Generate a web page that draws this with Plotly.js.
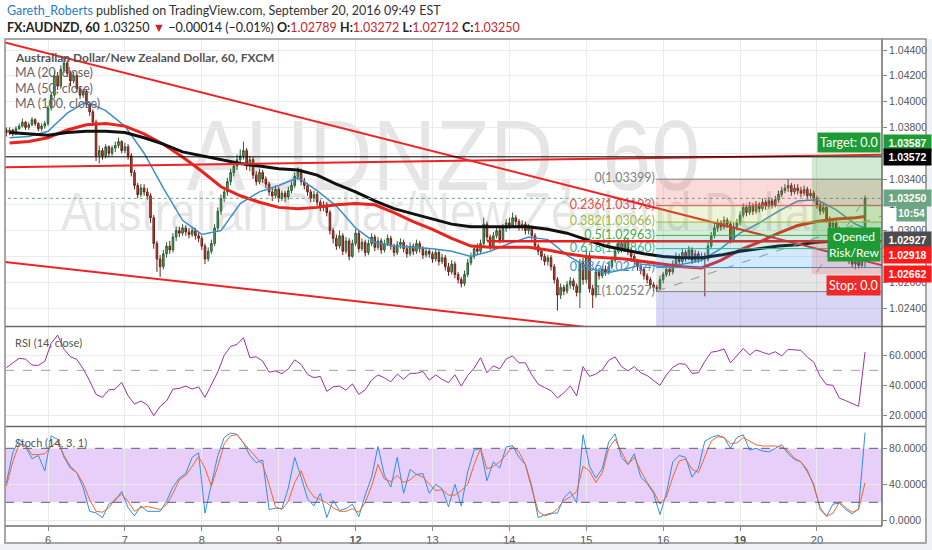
<!DOCTYPE html>
<html><head><meta charset="utf-8">
<script src="https://cdn.plot.ly/plotly-3.0.1.min.js"></script>
<style>
html,body{margin:0;padding:0;background:#fff;}
#wrap{position:relative;width:932px;height:550px;overflow:hidden;background:#fff;}
#wm{position:absolute;left:5px;top:0;width:877px;height:550px;pointer-events:none;font-family:'Liberation Sans',Arial,sans-serif;color:rgba(0,0,0,0.10);}
.wm{position:absolute;left:0;width:877px;text-align:center;white-space:nowrap;transform:scaleX(0.88);}
.wm1{font-size:100px;line-height:100px;top:105px;}
.wm2{font-size:53px;line-height:53px;top:185px;}
#chart{position:absolute;left:0;top:0;width:932px;height:550px;}
#bstrip{position:absolute;left:0;top:544px;width:932px;height:6px;background:#eef1f5;}
#rstrip{position:absolute;left:927px;top:39px;width:5px;height:511px;background:#eef1f5;}
</style></head>
<body>
<div id="wrap">
  <div id="bstrip"></div><div id="rstrip"></div>
  <div id="wm"><div class="wm wm1">AUDNZD, 60</div><div class="wm wm2">Australian Dollar/New Zealand Dollar</div></div>
  <div id="chart"></div>
</div>
<script>
// ---------------- DATA ----------------
const firstBar = -13;            // bar index of first candle (0 = start of day "6")
const barsPerDay = 24;
const dayLabels = ['6','7','8','9','<b>12</b>','13','14','15','16','<b>19</b>','20'];
const firstOpen = 1.0378;
const closes = [
1.0376,1.0378,1.0375,1.0379,1.0381,1.0384,1.0380,1.0382,1.0386,1.0383,1.0379,1.0381,1.0383,
1.0395,1.0405,1.0420,1.0412,1.0425,1.0430,1.0422,1.0416,1.0420,1.0410,1.0405,1.0408,
1.0398,1.0392,1.0384,1.0358,1.0362,1.0358,1.0365,1.0360,1.0364,1.0366,1.0369,1.0362,
1.0365,1.0358,1.0345,1.0335,1.0328,1.0333,1.0330,1.0327,1.0310,1.0290,1.0278,1.0272,
1.0282,1.0288,1.0285,1.0295,1.0300,1.0298,1.0302,1.0299,1.0297,1.0300,1.0296,1.0294,
1.0288,1.0278,1.0284,1.0290,1.0302,1.0315,1.0325,1.0330,1.0338,1.0345,1.0350,1.0355,
1.0358,1.0362,1.0350,1.0355,1.0343,1.0338,1.0345,1.0340,1.0336,1.0330,1.0327,1.0332,
1.0325,1.0329,1.0326,1.0331,1.0335,1.0342,1.0346,1.0338,1.0335,1.0330,1.0325,1.0328,
1.0322,1.0318,1.0320,1.0314,1.0300,1.0294,1.0288,1.0296,1.0284,1.0292,1.0280,1.0290,
1.0298,1.0286,1.0291,1.0283,1.0290,1.0295,1.0287,1.0292,1.0285,1.0290,1.0294,1.0288,
1.0283,1.0289,1.0291,1.0286,1.0282,1.0288,1.0284,1.0290,1.0286,1.0281,1.0284,1.0282,
1.0278,1.0283,1.0276,1.0279,1.0272,1.0268,1.0274,1.0266,1.0262,1.0259,1.0266,1.0275,
1.0280,1.0286,1.0284,1.0290,1.0305,1.0295,1.0288,1.0296,1.0300,1.0293,1.0302,1.0306,
1.0304,1.0310,1.0307,1.0303,1.0305,1.0300,1.0302,1.0296,1.0288,1.0284,1.0280,1.0276,
1.0279,1.0272,1.0262,1.0250,1.0256,1.0253,1.0258,1.0261,1.0257,1.0252,1.0275,1.0262,
1.0280,1.0255,1.0250,1.0268,1.0265,1.0270,1.0268,1.0272,1.0277,1.0284,1.0290,1.0286,
1.0292,1.0284,1.0280,1.0276,1.0272,1.0270,1.0265,1.0262,1.0258,1.0256,1.0255,1.0262,
1.0266,1.0270,1.0268,1.0274,1.0280,1.0276,1.0283,1.0279,1.0285,1.0277,1.0282,1.0278,
1.0280,1.0278,1.0288,1.0296,1.0302,1.0306,1.0303,1.0308,1.0305,1.0293,1.0303,1.0306,
1.0312,1.0318,1.0314,1.0319,1.0315,1.0320,1.0317,1.0322,1.0319,1.0323,1.0320,1.0324,
1.0328,1.0331,1.0333,1.0335,1.0330,1.0333,1.0331,1.0329,1.0332,1.0327,1.0329,1.0325,
1.0320,1.0315,1.0318,1.0309,1.0303,1.0306,1.0301,1.0286,1.0283,1.0280,1.0277,1.0274,
1.0276,1.0273,1.02789,1.03250];
const highs = [
1.0380,1.0380,1.0379,1.0381,1.0383,1.0387,1.0385,1.0384,1.0388,1.0387,1.0384,1.0383,1.0385,
1.0397,1.0407,1.0424,1.0423,1.0428,1.0434,1.0432,1.0424,1.0423,1.0421,1.0412,1.0410,
1.0409,1.0400,1.0394,1.0386,1.0366,1.0364,1.0367,1.0366,1.0366,1.0369,1.0372,1.0370,
1.0368,1.0367,1.0360,1.0347,1.0337,1.0336,1.0336,1.0333,1.0329,1.0312,1.0292,1.0281,
1.0285,1.0291,1.0292,1.0298,1.0303,1.0303,1.0305,1.0304,1.0302,1.0303,1.0302,1.0299,
1.0296,1.0290,1.0287,1.0293,1.0305,1.0318,1.0328,1.0334,1.0341,1.0348,1.0354,1.0359,
1.0363,1.0369,1.0364,1.0358,1.0357,1.0346,1.0348,1.0347,1.0342,1.0338,1.0333,1.0335,
1.0334,1.0331,1.0331,1.0334,1.0338,1.0345,1.0349,1.0348,1.0341,1.0337,1.0332,1.0331,
1.0330,1.0324,1.0323,1.0322,1.0316,1.0302,1.0297,1.0300,1.0298,1.0295,1.0294,1.0293,
1.0301,1.0300,1.0294,1.0293,1.0293,1.0298,1.0297,1.0295,1.0294,1.0293,1.0297,1.0296,
1.0290,1.0292,1.0294,1.0293,1.0289,1.0291,1.0290,1.0293,1.0292,1.0288,1.0287,1.0286,
1.0284,1.0286,1.0285,1.0282,1.0281,1.0275,1.0277,1.0276,1.0268,1.0264,1.0269,1.0278,
1.0283,1.0289,1.0290,1.0293,1.0310,1.0307,1.0297,1.0299,1.0303,1.0302,1.0305,1.0309,
1.0310,1.0314,1.0312,1.0309,1.0308,1.0307,1.0305,1.0304,1.0298,1.0290,1.0286,1.0282,
1.0281,1.0281,1.0274,1.0264,1.0259,1.0258,1.0261,1.0264,1.0263,1.0259,1.0278,1.0279,
1.0285,1.0283,1.0258,1.0271,1.0271,1.0273,1.0273,1.0275,1.0280,1.0287,1.0293,1.0292,
1.0295,1.0294,1.0287,1.0282,1.0278,1.0274,1.0272,1.0267,1.0264,1.0260,1.0258,1.0265,
1.0268,1.0273,1.0272,1.0277,1.0283,1.0282,1.0286,1.0285,1.0288,1.0287,1.0285,1.0284,
1.0283,1.0283,1.0291,1.0299,1.0305,1.0309,1.0308,1.0311,1.0310,1.0307,1.0306,1.0309,
1.0315,1.0321,1.0320,1.0322,1.0321,1.0323,1.0322,1.0325,1.0324,1.0326,1.0325,1.0327,
1.0331,1.0334,1.0336,1.03399,1.0337,1.0336,1.0336,1.0334,1.0335,1.0334,1.0332,1.0331,
1.0327,1.0322,1.0321,1.0319,1.0311,1.0309,1.0308,1.0303,1.0289,1.0286,1.0283,1.0280,
1.0279,1.0278,1.0281,1.03272];
const lows = [
1.0373,1.0374,1.0373,1.0374,1.0378,1.0380,1.0378,1.0378,1.0381,1.0381,1.0377,1.0377,1.0379,
1.0381,1.0393,1.0403,1.0409,1.0410,1.0422,1.0419,1.0412,1.0414,1.0407,1.0402,1.0403,
1.0395,1.0389,1.0381,1.0354,1.0352,1.0355,1.0356,1.0357,1.0358,1.0361,1.0364,1.0360,
1.0360,1.0355,1.0342,1.0332,1.0325,1.0326,1.0327,1.0324,1.0306,1.0286,1.0268,1.0264,
1.0270,1.0279,1.0282,1.0283,1.0292,1.0295,1.0296,1.0296,1.0294,1.0295,1.0293,1.0291,
1.0285,1.0274,1.0276,1.0282,1.0288,1.0300,1.0312,1.0322,1.0327,1.0335,1.0342,1.0347,
1.0352,1.0355,1.0347,1.0346,1.0340,1.0335,1.0336,1.0337,1.0333,1.0327,1.0323,1.0325,
1.0322,1.0323,1.0322,1.0324,1.0329,1.0333,1.0339,1.0335,1.0332,1.0327,1.0322,1.0322,
1.0319,1.0315,1.0315,1.0311,1.0297,1.0290,1.0285,1.0286,1.0281,1.0282,1.0277,1.0279,
1.0288,1.0283,1.0284,1.0280,1.0281,1.0288,1.0284,1.0285,1.0282,1.0283,1.0288,1.0285,
1.0280,1.0281,1.0286,1.0283,1.0279,1.0280,1.0281,1.0282,1.0283,1.0278,1.0279,1.0279,
1.0275,1.0276,1.0273,1.0274,1.0269,1.0265,1.0266,1.0263,1.0259,1.0256,1.0257,1.0264,
1.0273,1.0278,1.0281,1.0282,1.0288,1.0292,1.0285,1.0286,1.0294,1.0290,1.0291,1.0299,
1.0301,1.0302,1.0304,1.0300,1.0300,1.0297,1.0297,1.0293,1.0285,1.0281,1.0277,1.0273,
1.0273,1.0269,1.0259,1.0238,1.0247,1.0250,1.0251,1.0255,1.0254,1.0249,1.0240,1.0258,
1.0259,1.0252,1.0240,1.0248,1.0262,1.0263,1.0265,1.0266,1.0270,1.0275,1.0282,1.0283,
1.0284,1.0281,1.0277,1.0273,1.0269,1.0266,1.0262,1.0259,1.0255,1.0253,1.02527,1.0254,
1.0259,1.0264,1.0265,1.0266,1.0272,1.0273,1.0274,1.0276,1.0277,1.0274,1.0275,1.0275,
1.0276,1.0249,1.0276,1.0286,1.0294,1.0299,1.0300,1.0301,1.0302,1.0290,1.0291,1.0300,
1.0304,1.0310,1.0311,1.0312,1.0312,1.0313,1.0314,1.0315,1.0316,1.0317,1.0317,1.0318,
1.0322,1.0326,1.0329,1.0330,1.0327,1.0328,1.0328,1.0326,1.0327,1.0324,1.0325,1.0322,
1.0317,1.0312,1.0313,1.0306,1.0300,1.0301,1.0298,1.0283,1.0280,1.0277,1.0274,1.0271,
1.0270,1.02705,1.0271,1.02712];

// moving averages read every 6 bars from bar -12, last value at the last bar
const maFirstBar = -12, maStep = 6;
const ma20 = [1.0372,1.0373,1.0377,1.0391,1.0400,1.0393,1.0381,1.0360,1.0333,1.0308,1.0297,1.0300,1.0321,1.0330,1.0335,1.0341,1.0331,1.0319,1.0302,1.0291,1.0288,1.0287,1.0286,1.0284,1.0280,1.0284,1.0290,1.0295,1.0293,1.0281,1.0272,1.0267,1.0270,1.0274,1.0272,1.0274,1.0277,1.0286,1.0298,1.0306,1.0315,1.0323,1.0324,1.0316,1.0305,1.0302];
const ma50 = [1.0368,1.0369,1.0372,1.0378,1.0382,1.0383,1.0381,1.0375,1.0367,1.0357,1.0346,1.0334,1.0327,1.0322,1.0318,1.0317,1.0318,1.0320,1.0321,1.0320,1.0314,1.0307,1.0301,1.0294,1.0288,1.0287,1.0287,1.0287,1.0285,1.0282,1.0280,1.0279,1.0278,1.0276,1.0274,1.0272,1.0271,1.0277,1.0285,1.0291,1.0298,1.0304,1.0307,1.0309,1.0310,1.0311];
const ma100 = [1.0376,1.0375,1.0374,1.0376,1.0377,1.0377,1.0376,1.0372,1.0367,1.0361,1.0358,1.0355,1.0352,1.0350,1.0348,1.0347,1.0343,1.0336,1.0330,1.0323,1.0317,1.0313,1.0309,1.0305,1.0303,1.0303,1.0303,1.0303,1.0301,1.0298,1.0293,1.0288,1.0285,1.0282,1.0280,1.0279,1.0279,1.0281,1.0284,1.0286,1.0288,1.0289,1.0291,1.0292,1.0293,1.02927];

// oscillators read every 2 bars from bar -13
const oscFirstBar = -13, oscStep = 2;
const rsi = [51.8,55,58,57.5,53.5,53.3,56,68,73.5,64,59,57.3,51,43,34,32,37,37.5,42,33,27.5,29.5,27,19.8,26,29.6,37.5,38,39.5,37.5,39,32,41,49,60,66,67.3,71.8,58.5,59,56.2,48.8,49.6,47.8,51,57,54,47.3,45.1,46,36,39,39.5,36.8,41,34,37,43.5,47,45,42.3,47.5,44,48,48,49.3,43.5,47,44,41.8,
47,39.5,46.6,51.5,58.4,48.4,53,51,57.6,59.6,55,55,47,40.8,38.5,36.5,31.6,35,39.6,33,52.5,46,47.5,50.4,56.6,59,52.5,49.6,52.5,48.4,46.5,43.4,40,47,52,54.5,54,48,48.4,56,62.1,62.8,64.3,55,59.6,64.6,60.2,63.6,62,60.7,62.4,59.6,64,63.6,63.3,58.8,55.5,46,40.5,40,31.5,29.8,27.8,26,62.2];
const stochK = [41.7,75,90,82,68.5,72,55,93.8,90,70,58,52.9,36,10,8.3,3,18,22,32,14,5,16,10,10,10,21.3,37,47,52,70,75,8,42,72,92,97,95.6,86,72,64,67,12,13.5,13,36,70,48,24,16,30,3,22,11,13,18,4,28,48,82,50,37,70,30,56.6,51,52,30,40,35,15,
40,16,54,78,80,44,65,58,81.5,83,70,62,38,3,6,8,8,25,32,19.4,95,60,47,57.5,87,96,70,62,74,48,41,30,6.4,30,65,72,70,48,58,88,92,94.5,92,80,92,95,78,80,77,76,80,84,74,67.7,65,54,40,12,4.5,18,19,12,7,13,97.5];
const stochD = [38,65,85,83,73,73,74,82,88,72,60,53,41,23,10,9,14,24,29,21,10,14,15.5,14,12,17.5,30,45,50,60,71,58,38,60,85,94,95,86,78,70,62,40,15,12,21,42,55,36,26,23,19.4,14,10,10,13,9,20,38,62,46,43,50,42,45,51,48,40,33,34,28,
28,33,40,62,80,57,60,65,73,82,76,62,35,10,5,7,13,22,26,32,60,55,42,53,80,90,76,62,70,55,42,32,18,26,48,66,68,57,53,70,88,93,92,85,86,92,88,84,82.6,82.6,82.6,81,77,69,65,56,38,14,4.5,8,20,14,9,12,41.7];

// drawings (bar index, price)
const upperTrendBars = [-14, 262], upperTrendPrices = [1.04462, 1.02720];
const lowerTrendBars = [-14, 180], lowerTrendPrices = [1.02759, 1.02219];
const resistBars = [-14, 262], resistPrices = [1.03491, 1.03589];
const blackLinePrice = 1.03572;
const redRayStartBar = 137, redRayPrice = 1.02918;
const dashTrendBars = [190, 260.3], dashTrendPrices = [1.02532, 1.03113];
const posLineBars = [240, 255], posLinePrices = [1.0268, 1.0325];
const fibHigh = 1.03399, fibLow = 1.02527, fibStartBar = 190;
const fibLevels = [0, 0.236, 0.382, 0.5, 0.618, 0.786, 1, 1.618];
const fibLineColors = ['#808080','#e05050','#9cbb3a','#3cb043','#2ab590','#3e8fd0','#808080','#3737cd'];
const fibFillColors = ['','rgba(232,69,69,0.2)','rgba(165,201,58,0.2)','rgba(76,175,80,0.22)','rgba(38,166,154,0.2)','rgba(33,150,243,0.2)','rgba(128,128,128,0.2)','rgba(55,55,205,0.2)'];
const posStartBar = 238.4, posEntry = 1.0292, posTarget = 1.03587, posStop = 1.02662;
const rightEdgeBar = 262;

// ---------------- BUILD ----------------
const lastBar = firstBar + closes.length - 1;
const bars = closes.map((_, k) => firstBar + k);
const opens = closes.map((c, k) => k === 0 ? firstOpen : closes[k - 1]);
const maX = ma20.map((_, k) => k < ma20.length - 1 ? maFirstBar + k * maStep : lastBar);
const oscX = rsi.map((_, k) => oscFirstBar + k * oscStep);
const dayTicks = dayLabels.map((_, k) => k * barsPerDay);
const fibPrices = fibLevels.map(l => fibHigh - l * (fibHigh - fibLow));
const lastClose = closes[closes.length - 1];

const XR = [-13.42, 260.3];
const W = 877, H = 487, L = 5, T = 39;
const px = x => (x - L) / W;
const py = y => (T + H - y) / H;

const traces = [];
// fib labels (drawn beneath series, as in the original)
const fibShown = fibLevels.slice(0, 7);
traces.push({type:'scatter', mode:'text', xaxis:'x', yaxis:'y',
  x: fibShown.map(() => fibStartBar - 0.6), y: fibPrices.slice(0, 7),
  text: fibShown.map((l, k) => l + '(' + fibPrices[k].toFixed(5) + ')'),
  textposition:'middle left', cliponaxis:false,
  textfont:{family:'Lato, sans-serif', size:12.5, color: fibLineColors.slice(0, 7)}, hoverinfo:'skip'});
traces.push({type:'candlestick', xaxis:'x', yaxis:'y', x:bars, open:opens, high:highs, low:lows, close:closes,
  increasing:{line:{color:'#2b5e35', width:1}, fillcolor:'#5aa565'},
  decreasing:{line:{color:'#6e1f16', width:1}, fillcolor:'#c44a3a'},
  whiskerwidth:0, hoverinfo:'skip'});
traces.push({type:'scatter', mode:'lines', x:maX, y:ma20, line:{color:'#3d8fc6', width:1.5}, xaxis:'x', yaxis:'y', hoverinfo:'skip'});
traces.push({type:'scatter', mode:'lines', x:maX, y:ma50, line:{color:'#e8241c', width:3}, xaxis:'x', yaxis:'y', hoverinfo:'skip'});
traces.push({type:'scatter', mode:'lines', x:maX, y:ma100, line:{color:'#111111', width:3}, xaxis:'x', yaxis:'y', hoverinfo:'skip'});
// current price dotted line
traces.push({type:'scatter', mode:'lines', x:[XR[0]-1, rightEdgeBar], y:[lastClose, lastClose], line:{color:'#6ba583', width:1, dash:'dot'}, xaxis:'x', yaxis:'y', hoverinfo:'skip'});
// drawings
traces.push({type:'scatter', mode:'lines', x:upperTrendBars, y:upperTrendPrices, line:{color:'#ee2222', width:2}, xaxis:'x', yaxis:'y', hoverinfo:'skip'});
traces.push({type:'scatter', mode:'lines', x:lowerTrendBars, y:lowerTrendPrices, line:{color:'#ee2222', width:2}, xaxis:'x', yaxis:'y', hoverinfo:'skip'});
traces.push({type:'scatter', mode:'lines', x:resistBars, y:resistPrices, line:{color:'#ee2222', width:2}, xaxis:'x', yaxis:'y', hoverinfo:'skip'});
traces.push({type:'scatter', mode:'lines', x:[XR[0]-1, rightEdgeBar], y:[blackLinePrice, blackLinePrice], line:{color:'#000', width:1}, xaxis:'x', yaxis:'y', hoverinfo:'skip'});
traces.push({type:'scatter', mode:'lines', x:[redRayStartBar, rightEdgeBar], y:[redRayPrice, redRayPrice], line:{color:'#ee1c1c', width:2.5}, xaxis:'x', yaxis:'y', hoverinfo:'skip'});
traces.push({type:'scatter', mode:'lines', x:dashTrendBars, y:dashTrendPrices, line:{color:'#9a9a9a', width:1, dash:'dash'}, xaxis:'x', yaxis:'y', hoverinfo:'skip'});
traces.push({type:'scatter', mode:'lines', x:posLineBars, y:posLinePrices, line:{color:'#9a9a9a', width:1, dash:'dash'}, xaxis:'x', yaxis:'y', hoverinfo:'skip'});
// RSI
traces.push({type:'scatter', mode:'lines', x:oscX, y:rsi, line:{color:'#9b30a8', width:1}, xaxis:'x2', yaxis:'y2', hoverinfo:'skip'});
// Stoch
traces.push({type:'scatter', mode:'lines', x:oscX, y:stochK, line:{color:'#2f8fe8', width:1}, xaxis:'x3', yaxis:'y3', hoverinfo:'skip'});
traces.push({type:'scatter', mode:'lines', x:oscX, y:stochD, line:{color:'#f0672b', width:1}, xaxis:'x3', yaxis:'y3', hoverinfo:'skip'});

const shapes = [];
// fib fills and lines
for (let k = 1; k < fibLevels.length; k++) {
  shapes.push({type:'rect', xref:'x', yref:'y', x0:fibStartBar - 0.2, x1:rightEdgeBar, y0:fibPrices[k-1], y1:fibPrices[k], fillcolor:fibFillColors[k], line:{width:0}, layer:'above'});
}
for (let k = 0; k < 7; k++) {
  shapes.push({type:'line', xref:'x', yref:'y', x0:fibStartBar - 0.2, x1:rightEdgeBar, y0:fibPrices[k], y1:fibPrices[k], line:{color:fibLineColors[k], width:1}, layer:'above'});
}
// long position tool
shapes.push({type:'rect', xref:'x', yref:'y', x0:posStartBar, x1:rightEdgeBar, y0:posEntry, y1:posTarget, fillcolor:'rgba(46,158,54,0.22)', line:{width:0}, layer:'above'});
shapes.push({type:'rect', xref:'x', yref:'y', x0:posStartBar, x1:rightEdgeBar, y0:posStop, y1:posEntry, fillcolor:'rgba(242,54,54,0.18)', line:{width:0}, layer:'above'});
// RSI mid line
shapes.push({type:'line', xref:'paper', yref:'y2', x0:0, x1:1, y0:50, y1:50, line:{color:'#a0a0a0', width:1, dash:'dash'}});
// Stoch band
shapes.push({type:'rect', xref:'paper', yref:'y3', x0:0, x1:1, y0:20, y1:80, fillcolor:'rgba(155,55,235,0.24)', line:{width:0}, layer:'below'});
shapes.push({type:'line', xref:'paper', yref:'y3', x0:0, x1:1, y0:80, y1:80, line:{color:'#5a5a86', width:1, dash:'dash'}});
shapes.push({type:'line', xref:'paper', yref:'y3', x0:0, x1:1, y0:20, y1:20, line:{color:'#5a5a86', width:1, dash:'dash'}});
// pane separators, axis lines, frame
shapes.push({type:'line', xref:'paper', yref:'paper', x0:0, x1:px(926), y0:py(326.5), y1:py(326.5), line:{color:'#6a6a6a', width:1.5}});
shapes.push({type:'line', xref:'paper', yref:'paper', x0:0, x1:px(926), y0:py(426.5), y1:py(426.5), line:{color:'#6a6a6a', width:1.5}});
shapes.push({type:'line', xref:'paper', yref:'paper', x0:0, x1:1, y0:0, y1:0, line:{color:'#6a6a6a', width:1.5}});
shapes.push({type:'line', xref:'paper', yref:'paper', x0:1, x1:1, y0:0, y1:1, line:{color:'#6a6a6a', width:1.5}});
shapes.push({type:'rect', xref:'paper', yref:'paper', x0:0, x1:px(926), y0:py(543), y1:1, line:{color:'#8c8c8c', width:1.5}, fillcolor:'rgba(0,0,0,0)'});

const ann = [];
const white = '#ffffff';
// header
ann.push({xref:'paper', yref:'paper', x:px(5), y:py(10), xanchor:'left', yanchor:'middle', showarrow:false,
  text:'<span style="color:#2b7bc4">Gareth_Roberts</span> published on TradingView.com, September 20, 2016 09:49 EST',
  font:{family:'Lato, sans-serif', size:12.5, color:'#333'}});
const red = '#c4262e';
const last = closes.length - 1;
ann.push({xref:'paper', yref:'paper', x:px(5), y:py(27), xanchor:'left', yanchor:'middle', showarrow:false,
  text:'<b>FX:AUDNZD, 60</b> ' + lastClose.toFixed(5) + ' <span style="color:' + red + '">▼</span> −0.00014 (−0.01%) ' +
    '<b>O:</b><span style="color:' + red + '">' + opens[last].toFixed(5) + '</span> ' +
    '<b>H:</b><span style="color:' + red + '">' + highs[last].toFixed(5) + '</span> ' +
    '<b>L:</b><span style="color:' + red + '">' + lows[last].toFixed(5) + '</span> ' +
    '<b>C:</b><span style="color:' + red + '">' + lastClose.toFixed(5) + '</span>',
  font:{family:'Lato, sans-serif', size:12.5, color:'#222'}});
// legends
ann.push({xref:'paper', yref:'paper', x:px(13), y:py(57), xanchor:'left', yanchor:'middle', showarrow:false,
  text:'<b>Australian Dollar/New Zealand Dollar, 60, FXCM</b>', font:{family:'Lato, sans-serif', size:12, color:'#555'}});
['MA (20, close)','MA (50, close)','MA (100, close)'].forEach((t, k) => {
  ann.push({xref:'paper', yref:'paper', x:px(13), y:py(72.5 + k * 15.5), xanchor:'left', yanchor:'middle', showarrow:false,
    text:t, font:{family:'Lato, sans-serif', size:12.5, color:'#666'}});
});
ann.push({xref:'paper', yref:'paper', x:px(13), y:py(342), xanchor:'left', yanchor:'middle', showarrow:false,
  text:'RSI (14, close)', font:{family:'Lato, sans-serif', size:11, color:'#555'}});
ann.push({xref:'paper', yref:'paper', x:px(13), y:py(442), xanchor:'left', yanchor:'middle', showarrow:false,
  text:'Stoch (14, 3, 1)', font:{family:'Lato, sans-serif', size:11, color:'#555'}});
// position tool labels
ann.push({xref:'paper', yref:'y', x:1, y:posTarget, xanchor:'right', yanchor:'middle', xshift:-1, yshift:12, showarrow:false,
  text:'Target: 0.0', bgcolor:'#1e9b35', borderpad:2, font:{family:'Lato, sans-serif', size:12.5, color:white}});
ann.push({xref:'paper', yref:'y', x:1, y:posStop, xanchor:'right', yanchor:'middle', xshift:-1, yshift:-11, showarrow:false,
  text:'Stop: 0.0', bgcolor:'#f02828', borderpad:2, font:{family:'Lato, sans-serif', size:12.5, color:white}});
ann.push({xref:'paper', yref:'y', x:1, y:posEntry, xanchor:'right', yanchor:'middle', xshift:-1, yshift:-4, showarrow:false,
  text:'Opened<br>Risk/Rew', bgcolor:'#1e9b35', borderpad:1, font:{family:'Lato, sans-serif', size:12, color:white}});
// axis price labels
const priceLabels = [
  {v:posTarget, bg:'#1e9b35', dy:12},
  {v:blackLinePrice, bg:'#000000', dy:0},
  {v:lastClose, bg:'#6ba583', dy:0},
  {v:ma100[ma100.length-1], bg:'#4d4d4d', dy:0},
  {v:redRayPrice, bg:'#ff1a1a', dy:-14},
  {v:posStop, bg:'#ff1a1a', dy:0}
];
priceLabels.forEach(p => {
  ann.push({xref:'paper', yref:'y', x:1, y:p.v, xanchor:'left', yanchor:'middle', xshift:1, yshift:p.dy, showarrow:false,
    text:'<b>' + p.v.toFixed(5) + '</b>', bgcolor:p.bg, width:44, height:13, borderpad:1.5,
    font:{family:'Liberation Sans, Arial, sans-serif', size:10.5, color:white}});
});
ann.push({xref:'paper', yref:'y', x:1, y:lastClose, xanchor:'left', yanchor:'middle', xshift:14, yshift:-15, showarrow:false,
  text:'<b>10:54</b>', bgcolor:'#6ba583', width:26, height:13, borderpad:1.5,
  font:{family:'Liberation Sans, Arial, sans-serif', size:10.5, color:white}});

const tickFont = {family:'Liberation Sans, Arial, sans-serif', size:10.5, color:'#555'};
const priceTicks = [];
for (let v = 1.024; v <= 1.04401; v += 0.002) priceTicks.push(+v.toFixed(3));
const xBase = {range:XR, tickvals:dayTicks, showgrid:true, gridcolor:'#ebebeb', gridwidth:1, zeroline:false, showline:false, fixedrange:true};
const layout = {
  width:932, height:550, margin:{l:5, r:50, t:39, b:24},
  paper_bgcolor:'rgba(0,0,0,0)', plot_bgcolor:'rgba(0,0,0,0)',
  showlegend:false, font:{family:'Liberation Sans, Arial, sans-serif'},
  xaxis: Object.assign({}, xBase, {anchor:'y', showticklabels:false, ticks:'', rangeslider:{visible:false}}),
  xaxis2: Object.assign({}, xBase, {anchor:'y2', showticklabels:false, ticks:''}),
  xaxis3: Object.assign({}, xBase, {anchor:'y3', showticklabels:true, ticktext:dayLabels, ticks:'outside', ticklen:4, tickcolor:'#888',
    tickfont:{family:'Liberation Sans, Arial, sans-serif', size:11, color:'#555'}}),
  yaxis: {domain:[0.41068, 1], range:[1.022605, 1.044853], side:'right', anchor:'x', tickvals:priceTicks, ticktext:priceTicks.map(v => v.toFixed(5)),
    showgrid:true, gridcolor:'#ebebeb', zeroline:false, ticks:'outside', ticklen:4, tickcolor:'#888', tickfont:tickFont, fixedrange:true},
  yaxis2: {domain:[0.20534, 0.40862], range:[12.9, 78.9], side:'right', anchor:'x2', tickvals:[20,40,60], ticktext:['20.0000','40.0000','60.0000'],
    showgrid:true, gridcolor:'#ebebeb', zeroline:false, ticks:'outside', ticklen:4, tickcolor:'#888', tickfont:tickFont, fixedrange:true},
  yaxis3: {domain:[0, 0.20329], range:[-6.3, 103.7], side:'right', anchor:'x3', tickvals:[0,40,80], ticktext:['0.0000','40.0000','80.0000'],
    showgrid:true, gridcolor:'#ebebeb', zeroline:false, ticks:'outside', ticklen:4, tickcolor:'#888', tickfont:tickFont, fixedrange:true},
  shapes:shapes, annotations:ann
};
Plotly.newPlot('chart', traces, layout, {staticPlot:true, displayModeBar:false});
</script>
</body></html>
